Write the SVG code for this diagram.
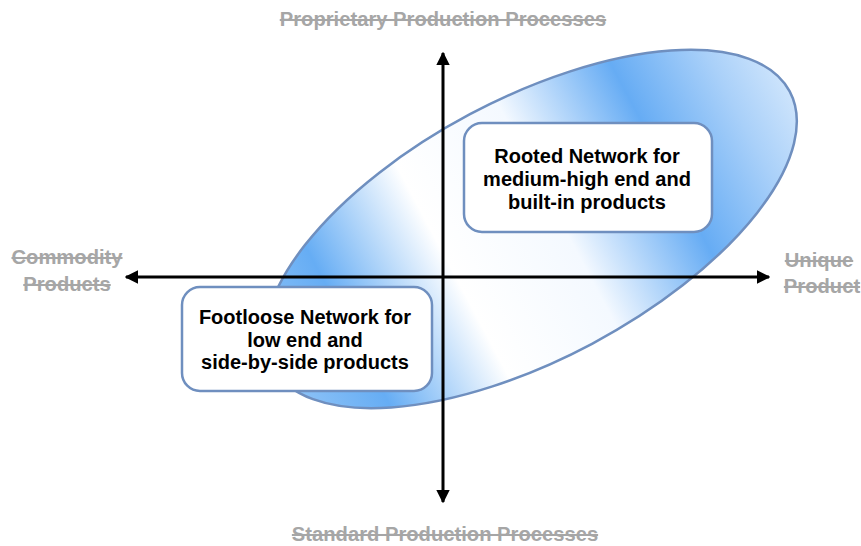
<svg xmlns="http://www.w3.org/2000/svg" width="861" height="546" viewBox="0 0 861 546">
  <style>
    .axis-label { font-family: "Liberation Sans", Arial, sans-serif; font-weight: bold; font-size: 20.2px; fill: #a6a6a6; text-anchor: middle; text-decoration: line-through; }
    .box { fill: #ffffff; stroke: #6f8fbf; stroke-width: 2.5; }
    .box-text { font-family: "Liberation Sans", Arial, sans-serif; font-weight: bold; font-size: 20px; fill: #000000; text-anchor: middle; }
    .axis { stroke: #000000; stroke-width: 3; fill: none; }
  </style>
  <defs>
    <linearGradient id="bandFill" gradientUnits="userSpaceOnUse" x1="-296" y1="0" x2="296" y2="0">
      <stop offset="0" stop-color="#92c5f7"/>
      <stop offset="0.15" stop-color="#66adf4"/>
      <stop offset="0.35" stop-color="#ffffff"/>
      <stop offset="0.55" stop-color="#f4f9ff"/>
      <stop offset="0.75" stop-color="#66acf4"/>
      <stop offset="0.9" stop-color="#a9d0f9"/>
      <stop offset="1" stop-color="#cfe5fc"/>
    </linearGradient>
    <marker id="arrow" viewBox="0 0 10 10" refX="9" refY="5" markerWidth="4.6" markerHeight="4.6" orient="auto-start-reverse" markerUnits="strokeWidth">
      <path d="M0,0 L10,5 L0,10 z" fill="#000000"/>
    </marker>
  </defs>

  <rect width="861" height="546" fill="#ffffff"/>

  <!-- tilted band -->
  <g id="band" transform="translate(531,229) rotate(-28)">
    <ellipse cx="0" cy="0" rx="293" ry="130" fill="url(#bandFill)" stroke="#6f8fbf" stroke-width="2.5"/>
  </g>

  <!-- axes -->
  <g id="connectors">
    <line class="axis" x1="126" y1="277" x2="769" y2="277" marker-start="url(#arrow)" marker-end="url(#arrow)"/>
    <line class="axis" x1="443" y1="53" x2="443" y2="502" marker-start="url(#arrow)" marker-end="url(#arrow)"/>
  </g>

  <!-- axis labels -->
  <g id="label-top"><text class="axis-label" x="443" y="26">Proprietary Production Processes</text></g>
  <g id="label-bottom"><text class="axis-label" x="445" y="541">Standard Production Processes</text></g>
  <g id="label-left">
    <text class="axis-label" x="67" y="264">Commodity</text>
    <text class="axis-label" x="67" y="291">Products</text>
  </g>
  <g id="label-right">
    <text class="axis-label" x="819" y="267">Unique</text>
    <text class="axis-label" x="822" y="293">Product</text>
  </g>

  <!-- network boxes -->
  <g id="rooted">
    <rect class="box" x="464" y="123" width="248" height="109" rx="18" ry="18"/>
    <text class="box-text" x="587" y="163">Rooted Network for</text>
    <text class="box-text" x="587" y="186">medium-high end and</text>
    <text class="box-text" x="587" y="209">built-in products</text>
  </g>
  <g id="footloose">
    <rect class="box" x="182" y="287" width="250" height="104" rx="18" ry="18"/>
    <text class="box-text" x="305" y="324">Footloose Network for</text>
    <text class="box-text" x="305" y="347">low end and</text>
    <text class="box-text" x="305" y="369">side-by-side products</text>
  </g>
</svg>
